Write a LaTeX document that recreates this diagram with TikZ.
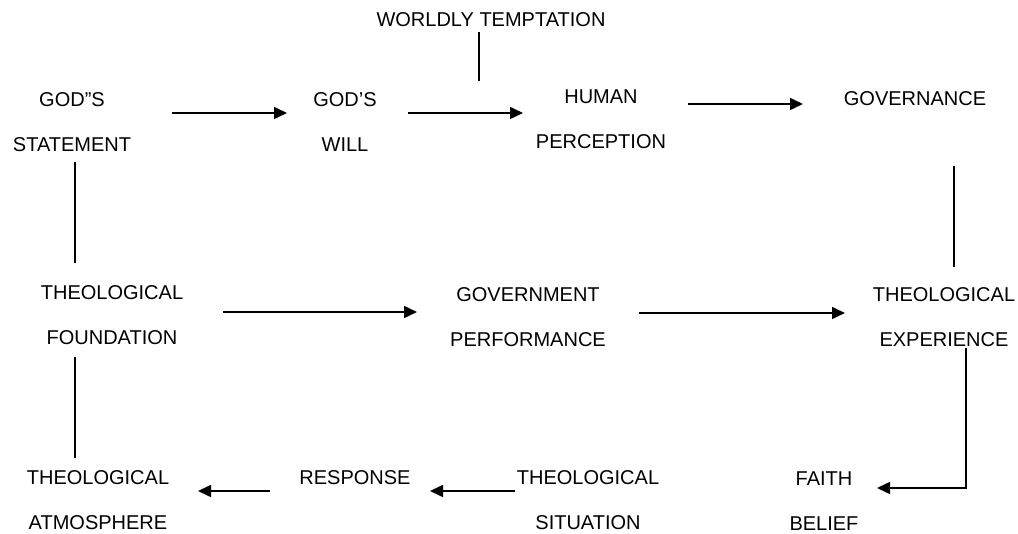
\documentclass[tikz,border=0pt]{standalone}
\usepackage{fontspec}
\setmainfont{Liberation Sans}
\usetikzlibrary{arrows.meta}

\begin{document}
\begin{tikzpicture}
[
  x=1pt, y=-1pt,
  lbl/.style={font=\fontsize{20}{45}\selectfont, align=center, inner sep=0pt},
  arr/.style={-{Triangle[length=13pt,width=12pt]}, line width=1.6pt},
  ln/.style={line width=1.6pt}
]

\useasboundingbox (0,0) rectangle (1018,534);

\node[lbl] (tempt) at (491,20) {WORLDLY TEMPTATION};
\node[lbl] (stmt) at (72,122.5) {GOD”S\\STATEMENT};
\node[lbl] (will) at (345,122.5) {GOD’S\\WILL};
\node[lbl] (human) at (601,119) {HUMAN\\PERCEPTION};
\node[lbl] (gov) at (915,99) {GOVERNANCE};

\node[lbl] (found) at (112,315) {THEOLOGICAL\\FOUNDATION};
\node[lbl] (perf) at (528,317.5) {GOVERNMENT\\PERFORMANCE};
\node[lbl] (exper) at (944,317.5) {THEOLOGICAL\\EXPERIENCE};

\node[lbl] (atmos) at (98,500) {THEOLOGICAL\\ATMOSPHERE};
\node[lbl] (resp) at (355,478) {RESPONSE};
\node[lbl] (situ) at (588,500) {THEOLOGICAL\\SITUATION};
\node[lbl] (faith) at (824,501) {FAITH\\BELIEF};

\coordinate (tmark) at (479,81);

% top row
\draw[arr, shorten <=100pt, shorten >=58pt]
  ([yshift=9.5pt]stmt.center) -- ([yshift=9.5pt]will.center);
\draw[arr, shorten <=63pt, shorten >=78pt]
  ([yshift=9.5pt]will.center) -- ([yshift=9.5pt]will.center -| human.center);
\draw[arr, shorten <=87pt, shorten >=112pt]
  ([yshift=-5pt]gov.center -| human.center) -- ([yshift=-5pt]gov.center);
\draw[ln, shorten <=5pt] (tmark |- tempt.south) -- (tmark);

% middle row
\draw[arr, shorten <=111pt, shorten >=111pt]
  ([yshift=3pt]found.center) -- ([yshift=3pt]found.center -| perf.center);
\draw[arr, shorten <=111pt, shorten >=99pt]
  ([yshift=4.5pt]perf.center) -- ([yshift=4.5pt]exper.center);

% bottom row
\draw[arr, shorten <=73pt, shorten >=75pt]
  ([yshift=-13pt]resp.center -| situ.center) -- ([yshift=-13pt]resp.center);
\draw[arr, shorten <=85pt, shorten >=100pt]
  ([yshift=-13pt]resp.center) -- ([yshift=-13pt]resp.center -| atmos.center);
\draw[arr, shorten <=30.5pt, shorten >=53pt]
  ([xshift=22pt]exper.center) |- ([yshift=13pt]faith.center);

% side lines
\draw[ln, shorten <=39.5pt, shorten >=52pt]
  ([xshift=3pt]stmt.center) -- ([xshift=3pt]stmt.center |- found.center);
\draw[ln, shorten <=42pt, shorten >=42pt]
  ([xshift=-37pt]found.center) -- ([xshift=-37pt]found.center |- atmos.center);
\draw[ln, shorten <=67pt, shorten >=50.5pt]
  ([xshift=39pt]gov.center) -- ([xshift=39pt]gov.center |- exper.center);

\end{tikzpicture}
\end{document}
